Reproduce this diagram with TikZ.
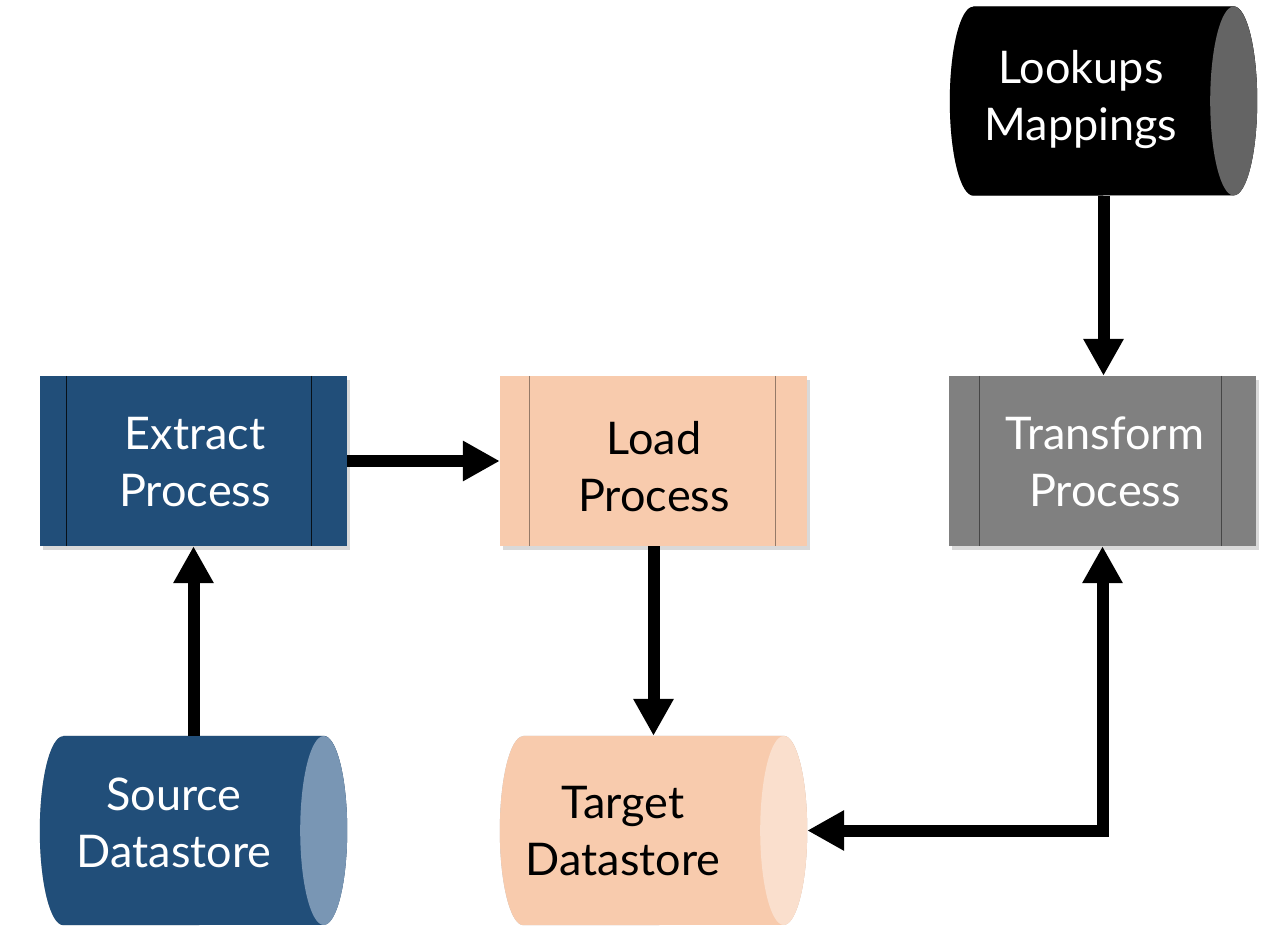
\documentclass[tikz,border=0pt]{standalone}
\usepackage{fontspec}
\setmainfont{Lato}
\usetikzlibrary{arrows.meta,shadows,calc}
\definecolor{dblue}{RGB}{33,78,121}
\definecolor{lblue}{RGB}{121,150,180}
\definecolor{peach}{RGB}{248,203,173}
\definecolor{lpeach}{RGB}{250,223,205}
\definecolor{mgray}{RGB}{128,128,128}
\definecolor{dgray}{RGB}{100,100,100}
\tikzset{
  shade/.style={drop shadow={opacity=0.3,shadow xshift=3pt,shadow yshift=-4pt}},
  procbox/.style={rectangle,minimum width=307pt,minimum height=170pt,inner sep=0pt,shade},
  storebox/.style={rectangle,minimum width=307pt,minimum height=189pt,inner sep=0pt},
  lbl/.style={font=\fontsize{45}{57}\selectfont,align=center,inner sep=0pt},
  conn/.style={line width=12pt,-{Triangle[width=38pt,length=37pt]}},
  conn2/.style={line width=12pt,{Triangle[width=38pt,length=37pt]}-{Triangle[width=38pt,length=37pt]}},
}
% outline of a datastore
\newcommand\cyloutline[1]{%
  ($(#1.north west)+(23.5,0)$) -- ($(#1.north east)+(-23.5,0)$)
  arc[start angle=-90,end angle=90,x radius=23.5,y radius=94.5]
  -- ($(#1.south west)+(23.5,0)$)
  arc[start angle=90,end angle=270,x radius=23.5,y radius=94.5] -- cycle}
% name, center, body colour, end colour
\newcommand\mycyl[4]{%
  \node[storebox] (#1) at (#2) {};
  \fill[black,opacity=0.28,shift={(3,4)}] \cyloutline{#1};
  \fill[#3] \cyloutline{#1};
  \fill[#4] ($(#1.east)+(-23.5,0)$) ellipse [x radius=23.5, y radius=94.5];
}
\begin{document}
\begin{tikzpicture}[x=1pt,y=-1pt]
\useasboundingbox (0,0) rectangle (1274,944);
% process boxes
\node[procbox,fill=dblue] (extract) at (193.5,461) {};
\node[procbox,fill=peach] (load) at (653.5,461) {};
\node[procbox,fill=mgray] (transform) at (1102.5,461) {};
\draw[line width=1.2pt,black!80!dblue] ($(extract.north west)+(27,0)$) -- ($(extract.south west)+(27,0)$)
  ($(extract.north east)+(-36,0)$) -- ($(extract.south east)+(-36,0)$);
\draw[line width=1.2pt,peach!60!black] ($(load.north west)+(30,0)$) -- ($(load.south west)+(30,0)$)
  ($(load.north east)+(-32,0)$) -- ($(load.south east)+(-32,0)$);
\draw[line width=1.2pt,dgray!70!black] ($(transform.north west)+(31,0)$) -- ($(transform.south west)+(31,0)$)
  ($(transform.north east)+(-35,0)$) -- ($(transform.south east)+(-35,0)$);
\node[lbl,text=white] (extractlbl) at (195,462) {Extract\\Process};
\node[lbl,text=black] (loadlbl) at (654,467) {Load\\Process};
\node[lbl,text=white] (transformlbl) at (1105,462) {Transform\\Process};
% datastores
\mycyl{source}{193.5,830.5}{dblue}{lblue}
\mycyl{target}{653.5,830.5}{peach}{lpeach}
\mycyl{lookups}{1103.5,101}{black}{dgray}
\node[lbl,text=white] (sourcelbl) at (174,823) {Source\\Datastore};
\node[lbl,text=black] (targetlbl) at (623,831) {Target\\Datastore};
\node[lbl,text=white] (lookupslbl) at (1081,100) {Lookups\\Mappings};
% connectors
\draw[conn] (extract.east) -- (load.west);
\draw[conn] (source.north) -- (extract.south);
\draw[conn] (load.south) -- (target.north);
\draw[conn] (lookups.south) -- (lookups.south |- transform.north);
\draw[conn2] (target.east) -| (transform.south);
\end{tikzpicture}
\end{document}
